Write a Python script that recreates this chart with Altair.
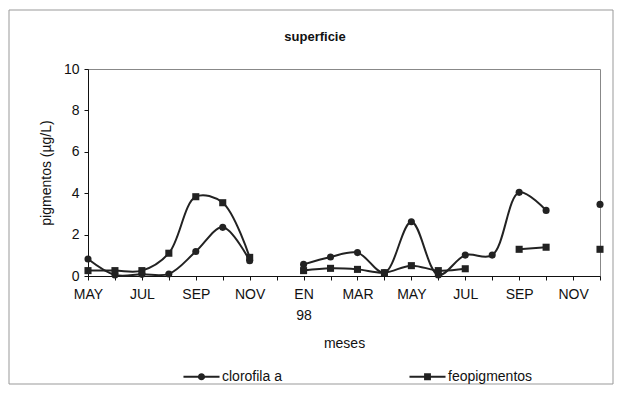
import altair as alt
import pandas as pd

# --- data ---
meses = ["MAY 97", "JUN 97", "JUL 97", "AGO 97", "SEP 97", "OCT 97", "NOV 97", "DIC 97",
         "EN 98", "FEB 98", "MAR 98", "ABR 98", "MAY 98", "JUN 98", "JUL 98", "AGO 98",
         "SEP 98", "OCT 98", "NOV 98", "DIC 98"]
etiquetas_x = ["MAY", "", "JUL", "", "SEP", "", "NOV", "", "EN 98", "", "MAR", "",
               "MAY", "", "JUL", "", "SEP", "", "NOV", ""]
clorofila = [0.82, 0.05, 0.08, 0.10, 1.18, 2.35, 0.74, None, 0.56, 0.92, 1.13, 0.16,
             2.62, 0.05, 1.01, 1.01, 4.04, 3.17, None, 3.46]
feopigmentos = [0.26, 0.26, 0.26, 1.10, 3.83, 3.54, 0.90, None, 0.26, 0.37, 0.32, 0.16,
                0.50, 0.26, 0.35, None, 1.29, 1.39, None, 1.29]
series = ["clorofila a", "feopigmentos"]
y_ticks = [0, 2, 4, 6, 8, 10]
titulo = "superficie"

rows = []
for i, m in enumerate(meses):
    rows.append({"i": i, "mes": m, "serie": series[0], "valor": clorofila[i]})
    rows.append({"i": i, "mes": m, "serie": series[1], "valor": feopigmentos[i]})
df = pd.DataFrame(rows)

def js_label(l):
    if " " in l:
        return "[" + ",".join("'" + p + "'" for p in l.split(" ")) + "]"
    return "'" + l + "'"

label_expr = "[" + ",".join(js_label(l) for l in etiquetas_x) + "][datum.value]"

FONT = "Liberation Sans"
INK = "#111111"
LINE = "#222222"
FS = 14

x_enc = alt.X("i:Q",
              scale=alt.Scale(domain=[0, len(meses) - 1], nice=False, zero=False),
              axis=alt.Axis(values=list(range(len(meses))), labelExpr=label_expr,
                            title="meses", grid=False, labelFlush=False, labelOverlap=False,
                            labelFontSize=FS, labelLineHeight=21, labelPadding=7,
                            tickSize=4, titleFontSize=FS, titleFontWeight="normal",
                            titlePadding=14, domainColor=INK, tickColor=INK,
                            labelColor=INK, titleColor=INK))
y_enc = alt.Y("valor:Q",
              scale=alt.Scale(domain=[0, 10], nice=False),
              axis=alt.Axis(values=y_ticks, title="pigmentos (µg/L)", grid=False,
                            labelFontSize=FS, labelPadding=5, tickSize=4,
                            titleFontSize=FS, titleFontWeight="normal", titlePadding=10,
                            domainColor=INK, tickColor=INK, labelColor=INK,
                            titleColor=INK))

base = alt.Chart(df)

lines = base.mark_line(interpolate="catmull-rom", color=LINE, strokeWidth=2,
                       invalid="break-paths-filter-domains").encode(
    x=x_enc, y=y_enc, detail="serie:N")

points = base.transform_filter("isValid(datum.valor)").mark_point(
    filled=True, color=LINE, size=50, opacity=1).encode(
    x=x_enc, y=y_enc,
    shape=alt.Shape("serie:N", scale=alt.Scale(domain=series, range=["circle", "square"]),
                    legend=None))

# legend symbols: a short line with the marker in the middle (filled shapes only)
h = 0.055
circ = (f"M-1,-{h}L-0.19,-{h}L-0.19,{h}L-1,{h}Z"
        f"M0.19,-{h}L1,-{h}L1,{h}L0.19,{h}Z"
        "M-0.2,0A0.2,0.2 0 1,1 0.2,0A0.2,0.2 0 1,1 -0.2,0Z")
sq = (f"M-1,-{h}L-0.19,-{h}L-0.19,{h}L-1,{h}Z"
      f"M0.19,-{h}L1,-{h}L1,{h}L0.19,{h}Z"
      "M-0.19,-0.19L0.19,-0.19L0.19,0.19L-0.19,0.19Z")

legend_layer = base.transform_filter("false").mark_point(
    filled=True, color=LINE).encode(
    x=x_enc, y=y_enc,
    shape=alt.Shape("serie:N", scale=alt.Scale(domain=series, range=[circ, sq]),
                    legend=alt.Legend(orient="none", legendX=95, legendY=289,
                                      direction="horizontal", columns=2, title=None,
                                      symbolSize=1300, symbolStrokeWidth=0,
                                      symbolFillColor=LINE,
                                      symbolOpacity=1, labelFontSize=FS, labelOffset=2,
                                      labelColor=INK, columnPadding=127, labelFont=FONT)))

frame = alt.Chart(alt.Data(values=[{"a": 1}])).mark_rect(
    filled=False, color="#999", strokeWidth=1).encode(
    x=alt.value(-79), x2=alt.value(525), y=alt.value(-59), y2=alt.value(315))

title_layer = alt.Chart(alt.Data(values=[{"t": titulo}])).mark_text(
    fontSize=13, fontWeight="bold", color=INK, font=FONT, baseline="alphabetic",
    align="center").encode(text="t:N", x=alt.value(227), y=alt.value(-28))

chart = alt.layer(frame, title_layer, lines, points, legend_layer).resolve_scale(
    shape="independent").properties(
    width=512, height=207,
    autosize=alt.AutoSizeParams(type="none"),
    padding={"left": 80, "top": 61, "right": 14, "bottom": 109},
).configure(font=FONT).configure_view(stroke="#888", strokeWidth=1)

chart.save("out.html", embed_options={"renderer": "svg", "actions": False})
